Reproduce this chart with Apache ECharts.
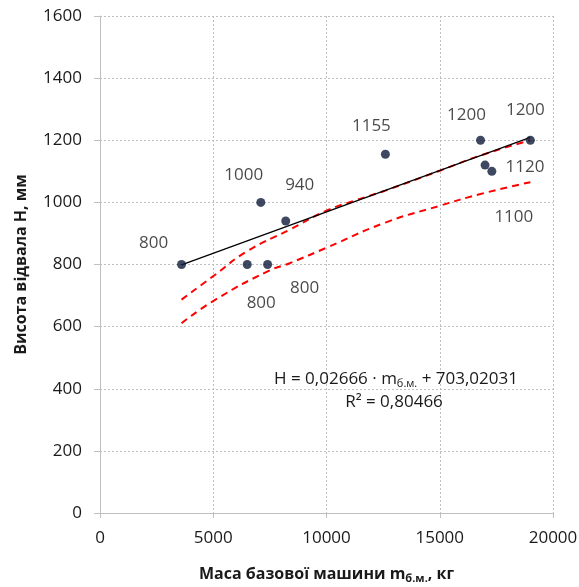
<!DOCTYPE html>
<html><head><meta charset="utf-8">
<script src="https://cdn.jsdelivr.net/npm/echarts@6/dist/echarts.min.js"></script>
<style>html,body{margin:0;padding:0;background:#fff}#c{width:579px;height:587px}</style>
</head><body><div id="c"></div>
<script>
// Data points: machine mass (kg) and blade height (mm)
const massKg = [3600, 6500, 7400, 7100, 8200, 12600, 16800, 19000, 17000, 17300];
const heightMm = [800, 800, 800, 1000, 940, 1155, 1200, 1200, 1120, 1100];
const pointLabels = ['800', '800', '800', '1000', '940', '1155', '1200', '1200', '1120', '1100'];
// Linear trend coefficients
const trendSlope = 0.02666;
const trendIntercept = 703.02031;
const trendRange = [3600, 19000];
// Red dashed curves
const upperCurveX = [3600, 5100, 6500, 8400, 10000, 11300, 12600, 15000, 16800, 19000];
const upperCurveY = [687, 768, 843, 913, 973, 1007, 1038, 1102, 1151, 1200];
const lowerCurveX = [3600, 5100, 7400, 8400, 10000, 12600, 15000, 16800, 19000];
const lowerCurveY = [611, 687, 778, 805, 854, 935, 989, 1027, 1065];
const xTicks = [0, 5000, 10000, 15000, 20000];
const yTicks = [0, 200, 400, 600, 800, 1000, 1200, 1400, 1600];

const labelOffsets = [[-28,-21],[14,39],[37,24],[-17,-27],[14,-36],[-14,-28],[-14,-25],[-5,-30],[40,2],[22,46]];
const FONT = 'Open Sans';
const TXT = '#1a1a1a';
const FS = 17;

const chart = echarts.init(document.getElementById('c'), null, {renderer: 'canvas'});
const scatterData = massKg.map((m, i) => ({
  value: [m, heightMm[i]],
  label: {show: true, formatter: pointLabels[i], position: 'inside', offset: labelOffsets[i],
    color: TXT, fontSize: FS, fontFamily: FONT}
}));
const trendData = trendRange.map(m => [m, trendSlope * m + trendIntercept]);
const gridLine = {show: true, lineStyle: {color: '#bfbfbf', type: [2, 2], width: 1}};
chart.setOption({
  animation: false,
  grid: {left: 100, right: 26, top: 16, bottom: 74, outerBoundsMode: 'none', containLabel: false},
  xAxis: {
    type: 'value', min: 0, max: 20000, interval: 5000,
    axisLine: {show: true, onZero: false, lineStyle: {color: '#bfbfbf'}},
    axisTick: {show: true, length: 5, lineStyle: {color: '#bfbfbf'}},
    axisLabel: {color: TXT, fontSize: FS, fontFamily: FONT, margin: 17, formatter: v => String(v)},
    splitLine: gridLine,
    name: '{b|Маса базової машини m}{s|б.м.}{b|, кг}',
    nameLocation: 'middle', nameGap: 52,
    nameTextStyle: {rich: {
      b: {fontSize: 16, fontWeight: 'bold', fontFamily: FONT, color: TXT},
      s: {fontSize: 11, fontWeight: 'bold', fontFamily: FONT, color: TXT, verticalAlign: 'bottom', padding: [8,0,0,0]}
    }}
  },
  yAxis: {
    type: 'value', min: 0, max: 1600, interval: 200,
    axisLine: {show: true, lineStyle: {color: '#bfbfbf'}},
    axisTick: {show: true, length: 6, lineStyle: {color: '#bfbfbf'}},
    axisLabel: {color: TXT, fontSize: FS, fontFamily: FONT, margin: 18, formatter: v => String(v)},
    splitLine: gridLine,
    name: 'Висота відвала Н, мм', nameLocation: 'middle', nameGap: 71,
    nameTextStyle: {fontSize: 16, fontWeight: 'bold', fontFamily: FONT, color: TXT}
  },
  series: [
    {type: 'line', data: upperCurveX.map((x, i) => [x, upperCurveY[i]]), smooth: true, symbol: 'none',
      lineStyle: {color: '#ff0000', width: 2, type: [7, 5]}, z: 2},
    {type: 'line', data: lowerCurveX.map((x, i) => [x, lowerCurveY[i]]), smooth: true, symbol: 'none',
      lineStyle: {color: '#ff0000', width: 2, type: [7, 5]}, z: 2},
    {type: 'line', data: trendData, symbol: 'none', lineStyle: {color: '#000', width: 1.3}, z: 3},
    {type: 'scatter', data: scatterData, symbolSize: 9, itemStyle: {color: '#0e1a3a'}, z: 4}
  ],
  graphic: [
    {type: 'text', z: 10, style: {
      x: 396, y: 379, align: 'center', verticalAlign: 'middle',
      text: '{n|H = 0,02666 · m}{s|б.м.}{n| + 703,02031}',
      rich: {n: {fontSize: FS, fontFamily: FONT, fill: TXT},
             s: {fontSize: 11, fontFamily: FONT, fill: TXT, padding: [9,0,0,0]}}
    }},
    {type: 'text', z: 10, style: {
      x: 394, y: 402, align: 'center', verticalAlign: 'middle',
      text: 'R² = 0,80466', fontSize: FS, fontFamily: FONT, fill: TXT
    }}
  ]
});
</script></body></html>
